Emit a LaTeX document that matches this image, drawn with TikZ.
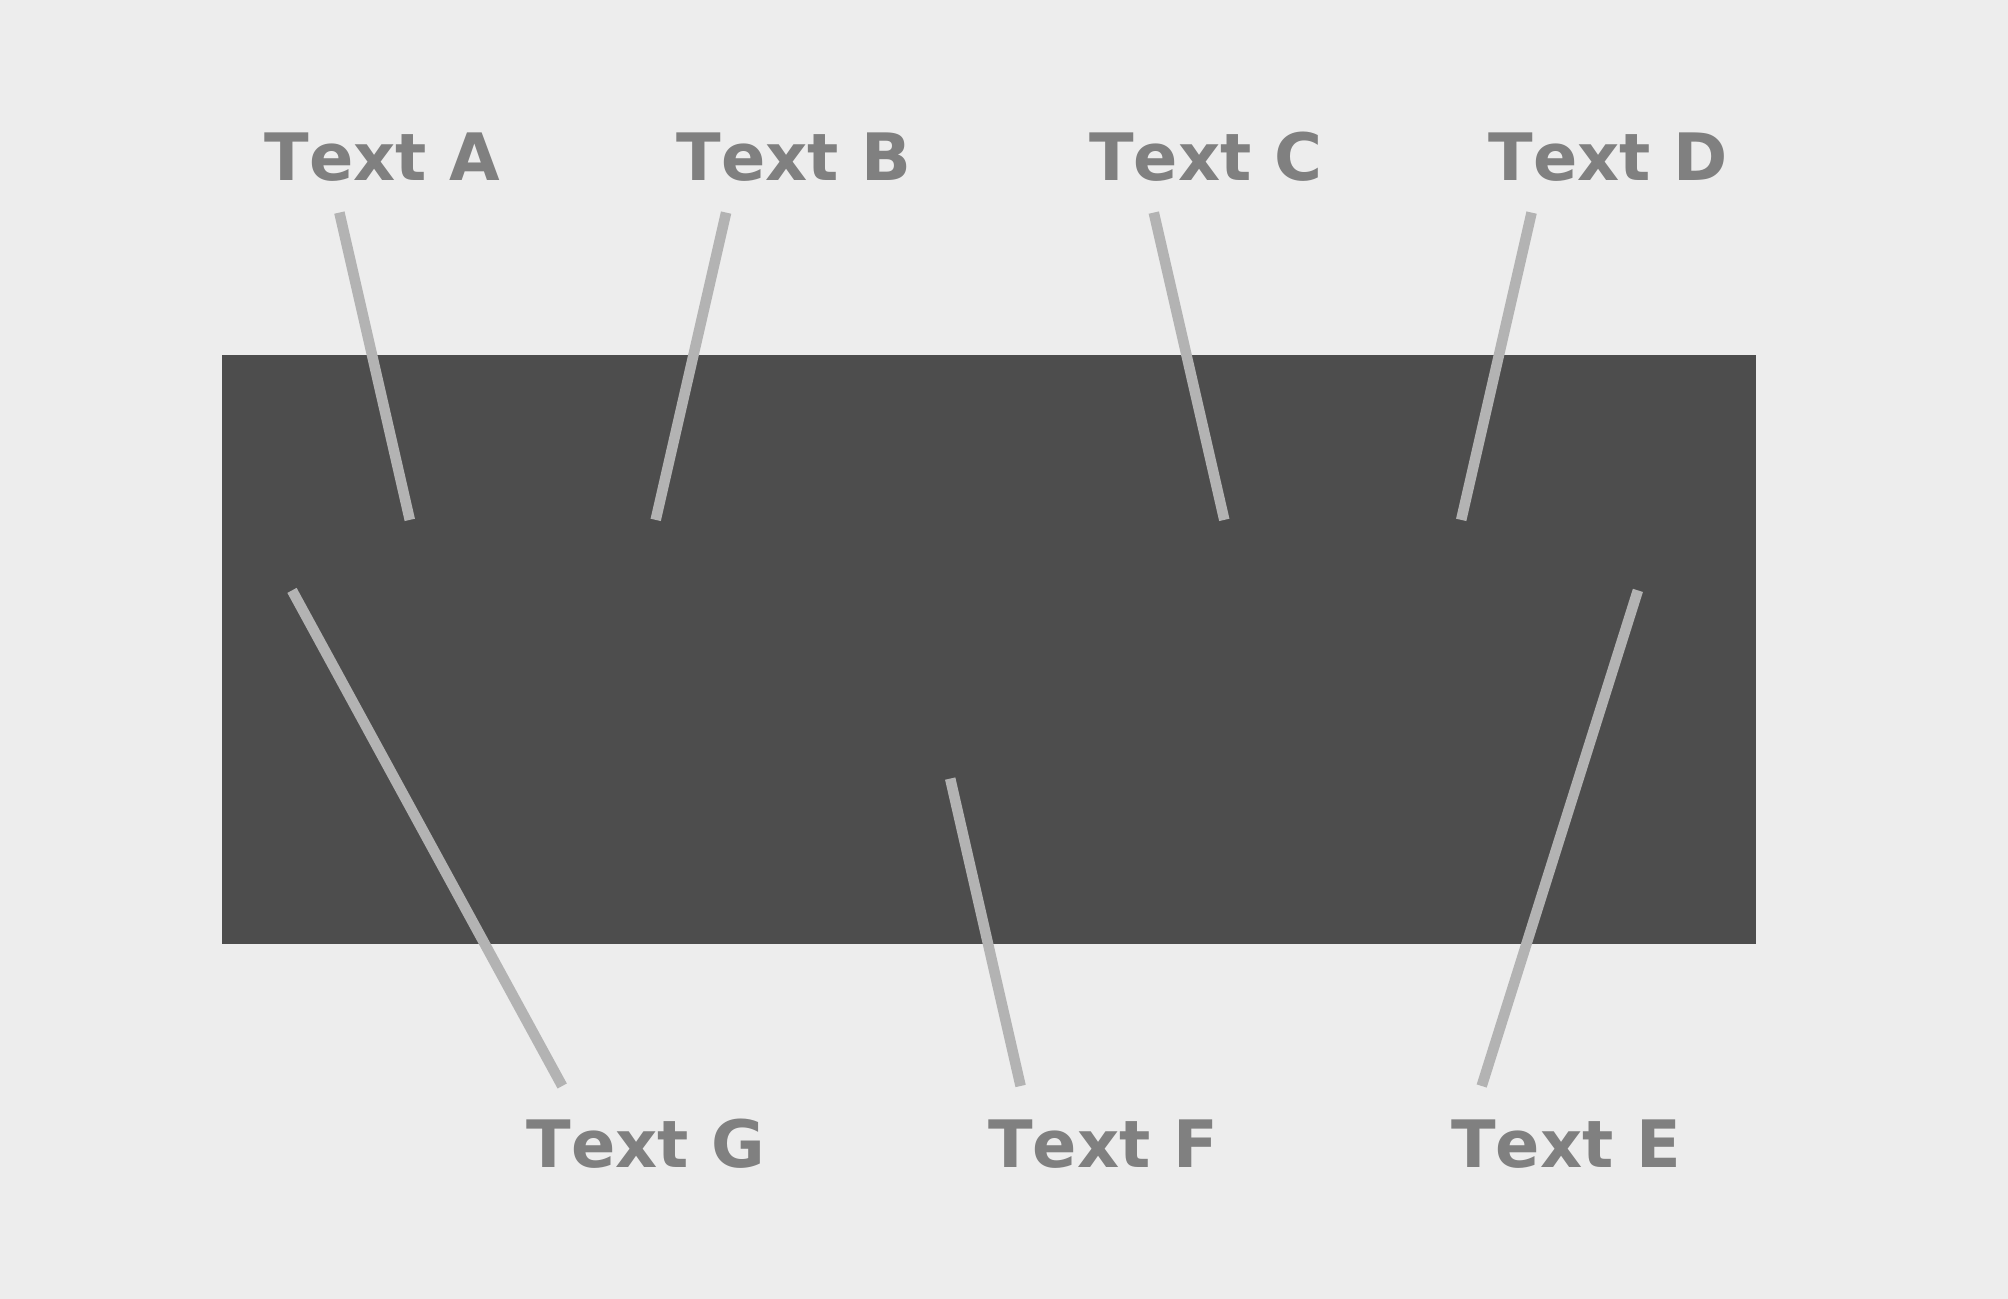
\documentclass[tikz,border=0pt]{standalone}
\usepackage{fontspec}
\setmainfont[Kerning=Off]{DejaVu Sans}
\definecolor{bggrey}{HTML}{EDEDED}
\definecolor{boxgrey}{HTML}{4D4D4D}
\definecolor{linegrey}{HTML}{B3B3B3}
\definecolor{textgrey}{HTML}{808080}
\begin{document}
\begin{tikzpicture}
    [label/.style={text=textgrey, font=\fontsize{18.6}{20}\selectfont\bfseries, anchor=base, inner sep=0pt},
     leader/.style={draw=linegrey, line width=3pt}]
    \fill[bggrey] (0,0) rectangle (20.08,12.99);
    \useasboundingbox (0,0) rectangle (20.08,12.99);
    \fill[boxgrey] (2.215,3.552) rectangle (17.557,9.443);
    % labels above and below the box
    \node[label] (ta) at (3.823,11.184) {Text A};
    \node[label] (tb) at (7.940,11.184) {Text B};
    \node[label] (tc) at (12.057,11.184) {Text C};
    \node[label] (td) at (16.084,11.184) {Text D};
    \node[label] (tg) at (6.461,1.311) {Text G};
    \node[label] (tf) at (11.032,1.311) {Text F};
    \node[label] (te) at (15.662,1.311) {Text E};
    % leader ends
    \coordinate (a1) at (3.394,10.864); \coordinate (a2) at (4.098,7.791);
    \coordinate (b1) at (7.261,10.864); \coordinate (b2) at (6.557,7.791);
    \coordinate (c1) at (11.538,10.864); \coordinate (c2) at (12.243,7.791);
    \coordinate (d1) at (15.316,10.864); \coordinate (d2) at (14.612,7.791);
    \coordinate (g1) at (5.622,2.130); \coordinate (g2) at (2.920,7.086);
    \coordinate (f1) at (10.206,2.130); \coordinate (f2) at (9.502,5.204);
    \coordinate (e1) at (14.817,2.130); \coordinate (e2) at (16.379,7.086);
    \foreach \s in {a,b,c,d,g,f,e}
        \draw[leader] (\s1) -- (\s2);
\end{tikzpicture}
\end{document}
